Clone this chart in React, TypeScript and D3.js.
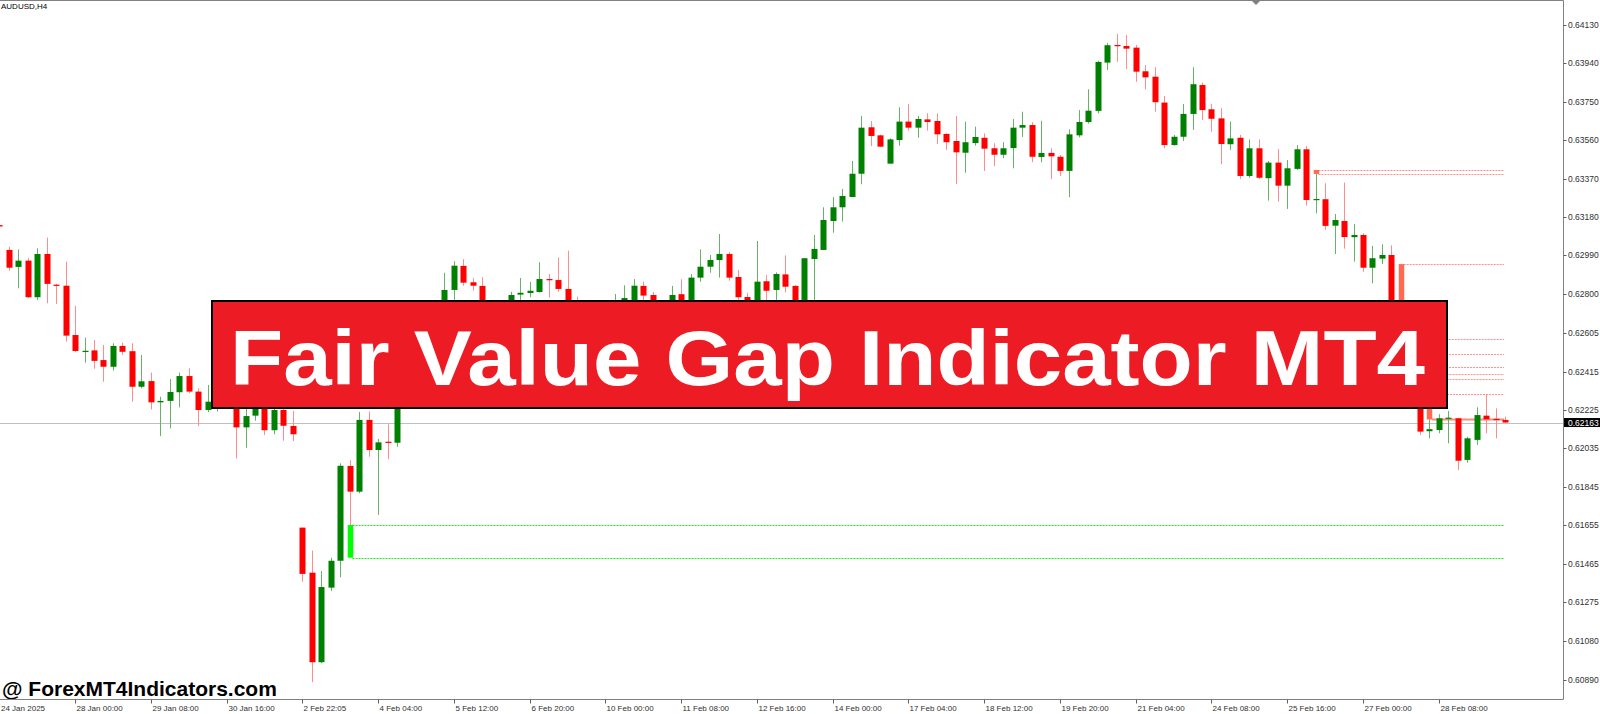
import { useEffect, useRef } from "react";
import * as d3 from "d3";

const SYMBOL = "AUDUSD,H4";
const TITLE = "Fair Value Gap Indicator MT4";
const WATERMARK = "@ ForexMT4Indicators.com";

// H4 bars, oldest first (bar 0 = 24 Jan 20:00)
const OPEN = [
  0.6314, 0.63017, 0.62933, 0.62964, 0.62783, 0.62997, 0.62845, 0.6284, 0.62596, 0.62516,
  0.6252, 0.62472, 0.62439, 0.62542, 0.62516, 0.6234, 0.62368, 0.62263, 0.6227, 0.62313,
  0.62393, 0.62316, 0.62225, 0.62245, 0.62275, 0.6225, 0.62139, 0.62197, 0.6224, 0.62125,
  0.62225, 0.62146, 0.61643, 0.6142, 0.60977, 0.61346, 0.61479, 0.61948, 0.61821, 0.62176,
  0.62027, 0.62068, 0.62063, 0.62299, 0.62472, 0.62413, 0.62621, 0.62695, 0.62819, 0.62938,
  0.62857, 0.62839, 0.6272, 0.6268, 0.62745, 0.62796, 0.62804, 0.62809, 0.62873, 0.62868,
  0.62824, 0.6273, 0.6268, 0.6272, 0.6269, 0.6274, 0.62754, 0.6275, 0.62839, 0.62794,
  0.62745, 0.6272, 0.62798, 0.62745, 0.6288, 0.62934, 0.62967, 0.62997, 0.62883, 0.62784,
  0.62745, 0.62862, 0.62819, 0.62896, 0.62839, 0.62764, 0.62972, 0.63017, 0.6316, 0.63228,
  0.63279, 0.63394, 0.63624, 0.63584, 0.63444, 0.63561, 0.63652, 0.63622, 0.63663, 0.63655,
  0.63591, 0.63556, 0.63498, 0.63546, 0.63572, 0.6352, 0.63488, 0.63521, 0.63622, 0.63635,
  0.63477, 0.63497, 0.63478, 0.63408, 0.63584, 0.6365, 0.63705, 0.63944, 0.64031, 0.64026,
  0.64018, 0.63901, 0.63874, 0.63746, 0.63536, 0.63577, 0.6369, 0.63833, 0.63713, 0.63668,
  0.6354, 0.63572, 0.63383, 0.6352, 0.63372, 0.63449, 0.63335, 0.63418, 0.63515, 0.63264,
  0.63268, 0.63137, 0.6316, 0.6308, 0.63091, 0.62929, 0.62974, 0.62992, 0.62522, 0.62423,
  0.62334, 0.6212, 0.62126, 0.62181, 0.62184, 0.61978, 0.62077, 0.62197, 0.62181, 0.62176,
];
const HIGH = [
  0.63143, 0.63033, 0.6302, 0.62976, 0.63025, 0.63078, 0.62849, 0.62959, 0.6274, 0.62583,
  0.62571, 0.62547, 0.62555, 0.62558, 0.62555, 0.62497, 0.6241, 0.62291, 0.62378, 0.6241,
  0.62431, 0.62332, 0.62349, 0.62299, 0.62294, 0.62265, 0.6225, 0.6226, 0.62255, 0.62245,
  0.6224, 0.6222, 0.61643, 0.61529, 0.61428, 0.61494, 0.61961, 0.61976, 0.62215, 0.62217,
  0.62082, 0.62154, 0.62324, 0.62512, 0.62522, 0.62646, 0.62745, 0.62904, 0.62961, 0.62971,
  0.62877, 0.62882, 0.62745, 0.62769, 0.6281, 0.62878, 0.62858, 0.62956, 0.62898, 0.62979,
  0.63013, 0.62786, 0.6275, 0.62745, 0.62759, 0.62799, 0.62842, 0.62873, 0.6286, 0.62809,
  0.62759, 0.62839, 0.62872, 0.62898, 0.6302, 0.62992, 0.63096, 0.63007, 0.62918, 0.62805,
  0.63061, 0.62893, 0.62906, 0.6299, 0.62843, 0.62976, 0.63091, 0.63228, 0.63278, 0.63319,
  0.63457, 0.6368, 0.63655, 0.63587, 0.63569, 0.63723, 0.63739, 0.6368, 0.63693, 0.63693,
  0.63594, 0.6368, 0.63652, 0.63627, 0.63594, 0.63545, 0.6355, 0.63665, 0.63701, 0.63649,
  0.63656, 0.6352, 0.63487, 0.63614, 0.63709, 0.63812, 0.63953, 0.6404, 0.64086, 0.64081,
  0.64031, 0.63932, 0.63921, 0.63779, 0.63586, 0.63739, 0.63921, 0.63845, 0.63739, 0.63718,
  0.63652, 0.63586, 0.63564, 0.63564, 0.63457, 0.63516, 0.63462, 0.63536, 0.63531, 0.63393,
  0.63347, 0.63195, 0.6335, 0.63145, 0.63099, 0.63037, 0.63045, 0.6304, 0.62576, 0.62436,
  0.62377, 0.62178, 0.62204, 0.6222, 0.62187, 0.62093, 0.62238, 0.62304, 0.62233, 0.62192,
];
const LOW = [
  0.63131, 0.62914, 0.62827, 0.62779, 0.62769, 0.62753, 0.6275, 0.62563, 0.62512, 0.62459,
  0.62429, 0.62365, 0.6242, 0.62497, 0.62266, 0.62332, 0.62228, 0.62096, 0.62134, 0.62238,
  0.62308, 0.62146, 0.62215, 0.62217, 0.62235, 0.61986, 0.62038, 0.62172, 0.62101, 0.62105,
  0.62073, 0.62072, 0.61375, 0.60878, 0.60972, 0.61329, 0.61397, 0.61656, 0.61813, 0.61994,
  0.61706, 0.61981, 0.62043, 0.62275, 0.62374, 0.62383, 0.62571, 0.6267, 0.62769, 0.6284,
  0.62815, 0.6268, 0.62646, 0.6266, 0.6272, 0.62769, 0.62783, 0.62806, 0.62781, 0.6281,
  0.62695, 0.62646, 0.6266, 0.6266, 0.6267, 0.6271, 0.6272, 0.6273, 0.62769, 0.6272,
  0.6269, 0.627, 0.6273, 0.6273, 0.6286, 0.62904, 0.6288, 0.62865, 0.62769, 0.6271,
  0.6272, 0.62759, 0.62759, 0.62807, 0.6274, 0.62745, 0.62769, 0.63017, 0.63102, 0.63157,
  0.63279, 0.63342, 0.63531, 0.63526, 0.63444, 0.63533, 0.63607, 0.63572, 0.63607, 0.63541,
  0.63512, 0.63343, 0.63399, 0.63533, 0.63408, 0.63432, 0.63472, 0.63421, 0.63576, 0.63451,
  0.63451, 0.63367, 0.63383, 0.63278, 0.63574, 0.63642, 0.63693, 0.63907, 0.63948, 0.63912,
  0.63849, 0.63812, 0.63701, 0.6352, 0.63533, 0.63556, 0.63611, 0.6366, 0.63602, 0.63441,
  0.63512, 0.63368, 0.63374, 0.63368, 0.63261, 0.63256, 0.6322, 0.63413, 0.63236, 0.63198,
  0.63116, 0.62997, 0.63023, 0.62959, 0.62909, 0.62852, 0.62947, 0.62501, 0.62403, 0.62304,
  0.62101, 0.62085, 0.6211, 0.6206, 0.61928, 0.61964, 0.62052, 0.6211, 0.62085, 0.62159,
];
const CLOSE = [
  0.63133, 0.62929, 0.62964, 0.62783, 0.62997, 0.62849, 0.6284, 0.62593, 0.62517, 0.62518,
  0.62468, 0.62439, 0.62542, 0.62513, 0.6234, 0.62367, 0.62263, 0.6227, 0.62314, 0.62393,
  0.62316, 0.62225, 0.62266, 0.62275, 0.6225, 0.62139, 0.62195, 0.6224, 0.62125, 0.62225,
  0.62147, 0.62105, 0.61414, 0.60977, 0.61349, 0.61479, 0.61949, 0.61821, 0.62176, 0.62027,
  0.62065, 0.62065, 0.62299, 0.62472, 0.62413, 0.62621, 0.62695, 0.62819, 0.62939, 0.62855,
  0.6284, 0.6272, 0.6268, 0.62745, 0.62794, 0.62805, 0.62815, 0.62873, 0.62867, 0.62824,
  0.6272, 0.6268, 0.6272, 0.6269, 0.6274, 0.62759, 0.62779, 0.6284, 0.62791, 0.62745,
  0.6272, 0.62794, 0.62745, 0.6288, 0.62934, 0.62967, 0.62997, 0.6288, 0.62783, 0.62745,
  0.6286, 0.62815, 0.62898, 0.62835, 0.62764, 0.62976, 0.63022, 0.63165, 0.63228, 0.63284,
  0.63394, 0.63622, 0.63581, 0.63528, 0.63564, 0.63652, 0.63622, 0.63665, 0.6365, 0.63589,
  0.6355, 0.635, 0.6355, 0.63576, 0.63518, 0.63488, 0.6352, 0.63622, 0.63635, 0.63478,
  0.63497, 0.6348, 0.63408, 0.63589, 0.6365, 0.63706, 0.63947, 0.6403, 0.64025, 0.64013,
  0.63899, 0.63871, 0.63748, 0.63536, 0.63577, 0.6369, 0.63837, 0.63709, 0.63666, 0.63541,
  0.63569, 0.63383, 0.6352, 0.63374, 0.63449, 0.63335, 0.63421, 0.63515, 0.63264, 0.63269,
  0.63136, 0.63165, 0.63081, 0.63091, 0.62929, 0.62976, 0.62992, 0.62522, 0.62423, 0.62334,
  0.62118, 0.6213, 0.62184, 0.62187, 0.61974, 0.62085, 0.622, 0.62179, 0.62176, 0.62163,
];

// price scale labels on the right
const PRICE_TICKS = [
  "0.64130", "0.63940", "0.63750", "0.63560", "0.63370", "0.63180", "0.62990", "0.62800", "0.62605",
  "0.62415", "0.62225", "0.62035", "0.61845", "0.61655", "0.61465", "0.61275", "0.61080", "0.60890",
];

// time scale labels, one every 8 bars starting at bar 0
const TIME_LABELS = [
  "24 Jan 2025", "28 Jan 00:00", "29 Jan 08:00", "30 Jan 16:00", "2 Feb 22:05", "4 Feb 04:00",
  "5 Feb 12:00", "6 Feb 20:00", "10 Feb 00:00", "11 Feb 08:00", "12 Feb 16:00", "14 Feb 00:00",
  "17 Feb 04:00", "18 Feb 12:00", "19 Feb 20:00", "21 Feb 04:00", "24 Feb 08:00", "25 Feb 16:00",
  "27 Feb 00:00", "28 Feb 08:00",
];
const TIME_STEP = 8;

// bars that close a fair value gap (third candle of the pattern)
const FVG_BARS = [37, 139, 148, 149, 150, 151];

const BID = 0.62163;

const W = 1600;
const H = 714;
const PLOT_RIGHT = 1563.5;
const PLOT_BOTTOM = 699.5;

const UP = "#008000";
const DOWN = "#FF0000";
const UP_WICK = "#66B266";
const DOWN_WICK = "#FF8C8C";

export default function App() {
  const ref = useRef<HTMLDivElement>(null);

  useEffect(() => {
    if (!ref.current) return;
    d3.select(ref.current).selectAll("*").remove();

    const n = OPEN.length;
    const bars = OPEN.map((o, i) => ({ i, o, h: HIGH[i], l: LOW[i], c: CLOSE[i] }));

    const x = d3.scaleLinear().domain([0, n - 1]).range([-0.67, 1505.06]);
    const y = d3.scaleLinear().domain([0.6413, 0.6089]).range([25, 679.8]);
    const bodyW = 6;
    const lineEnd = x(n - 1) - 1;

    const svg = d3
      .select(ref.current)
      .append("svg")
      .attr("width", W)
      .attr("height", H)
      .style("position", "absolute")
      .style("left", "0px")
      .style("top", "0px")
      .style("background", "#fff")
      .style("font-family", "'Liberation Sans', Arial, sans-serif");

    const plot = svg.append("g");

    // bid line
    plot
      .append("line")
      .attr("x1", 0)
      .attr("x2", PLOT_RIGHT)
      .attr("y1", Math.round(y(BID)) + 0.5)
      .attr("y2", Math.round(y(BID)) + 0.5)
      .attr("stroke", "#C0C0C0");

    // fair value gaps
    const zones = FVG_BARS.map((b, k) => {
      const bull = LOW[b] > HIGH[b - 2];
      const top = bull ? LOW[b] : LOW[b - 2];
      const bottom = bull ? HIGH[b - 2] : HIGH[b];
      return { b, bull, top, bottom, last: k === FVG_BARS.length - 1 };
    });

    zones.forEach((z) => {
      const col = z.bull ? "#22EE22" : "#FF9090";
      [z.top, z.bottom].forEach((p, j) => {
        const solid = z.last && j === 1;
        plot
          .append("line")
          .attr("x1", x(z.b) + 2.75)
          .attr("x2", lineEnd)
          .attr("y1", Math.round(y(p)) + 0.5)
          .attr("y2", Math.round(y(p)) + 0.5)
          .attr("stroke", solid ? "#FF8A7A" : col)
          .attr("stroke-width", solid ? 2 : 1)
          .attr("stroke-dasharray", solid ? null : "2,1");
      });
    });

    // candles
    const g = plot.selectAll("g.bar").data(bars).enter().append("g").attr("class", "bar");
    g.append("line")
      .attr("x1", (d) => Math.round(x(d.i)) + 0.5)
      .attr("x2", (d) => Math.round(x(d.i)) + 0.5)
      .attr("y1", (d) => y(d.h))
      .attr("y2", (d) => y(d.l))
      .attr("stroke", (d) => (d.c >= d.o ? UP_WICK : DOWN_WICK))
      .attr("stroke-width", 1);
    g.append("rect")
      .attr("x", (d) => Math.round(x(d.i)) + 0.5 - bodyW / 2)
      .attr("width", bodyW)
      .attr("y", (d) => y(Math.max(d.o, d.c)))
      .attr("height", (d) => Math.max(1.2, Math.abs(y(d.o) - y(d.c))))
      .attr("fill", (d) => (d.c >= d.o ? UP : DOWN));

    // gap boxes
    zones.forEach((z) => {
      plot
        .append("rect")
        .attr("x", Math.round(x(z.b)) + 0.5 - 2.75)
        .attr("width", 5.5)
        .attr("y", y(z.top))
        .attr("height", y(z.bottom) - y(z.top))
        .attr("fill", z.bull ? "#00FF00" : "#FF6A50");
    });

    // banner
    svg
      .append("rect")
      .attr("x", 212)
      .attr("y", 301)
      .attr("width", 1235)
      .attr("height", 107)
      .attr("fill", "#ED1C24")
      .attr("stroke", "#000")
      .attr("stroke-width", 2);
    svg
      .append("text")
      .attr("x", 230)
      .attr("y", 385)
      .attr("textLength", 1195)
      .attr("lengthAdjust", "spacingAndGlyphs")
      .style("font-size", "78px")
      .style("font-weight", "bold")
      .style("fill", "#fff")
      .text(TITLE);

    // watermark
    svg
      .append("text")
      .attr("x", 2)
      .attr("y", 696)
      .style("font-size", "21px")
      .style("font-weight", "bold")
      .style("fill", "#000")
      .text(WATERMARK);

    // frame
    svg
      .append("path")
      .attr("d", `M0,0.5H${PLOT_RIGHT}V${PLOT_BOTTOM}H0`)
      .attr("fill", "none")
      .attr("stroke", "#808080");

    // price axis
    const pa = svg.append("g");
    PRICE_TICKS.forEach((t) => {
      const yy = Math.round(y(+t)) + 0.5;
      pa.append("line")
        .attr("x1", PLOT_RIGHT)
        .attr("x2", PLOT_RIGHT + 3)
        .attr("y1", yy)
        .attr("y2", yy)
        .attr("stroke", "#606060");
      pa.append("text")
        .attr("x", 1568)
        .attr("y", yy)
        .attr("dy", "0.35em")
        .style("font-size", "8.5px")
        .style("fill", "#303030")
        .text(t);
    });

    // bid tag
    const by = y(BID);
    pa.append("rect")
      .attr("x", PLOT_RIGHT + 0.5)
      .attr("y", by - 4.5)
      .attr("width", W - PLOT_RIGHT)
      .attr("height", 9)
      .attr("fill", "#000");
    pa.append("text")
      .attr("x", 1568)
      .attr("y", by)
      .attr("dy", "0.35em")
      .style("font-size", "8.5px")
      .style("fill", "#fff")
      .text(BID.toFixed(5));

    // time axis
    const ta = svg.append("g");
    TIME_LABELS.forEach((t, k) => {
      const xx = Math.max(0, Math.round(x(k * TIME_STEP)) + 0.5);
      if (k > 0) {
        ta.append("line")
          .attr("x1", xx)
          .attr("x2", xx)
          .attr("y1", PLOT_BOTTOM)
          .attr("y2", PLOT_BOTTOM + 4)
          .attr("stroke", "#606060");
      }
      ta.append("text")
        .attr("x", xx + 1)
        .attr("y", 711)
        .style("font-size", "8px")
        .style("fill", "#303030")
        .text(t);
    });

    // chart shift marker
    svg
      .append("path")
      .attr("d", "M1251,0H1261L1256,5Z")
      .attr("fill", "#808080");

    // symbol caption
    svg
      .append("text")
      .attr("x", 1)
      .attr("y", 9)
      .style("font-size", "8px")
      .style("fill", "#000")
      .text(SYMBOL);
  }, []);

  return <div ref={ref} />;
}
